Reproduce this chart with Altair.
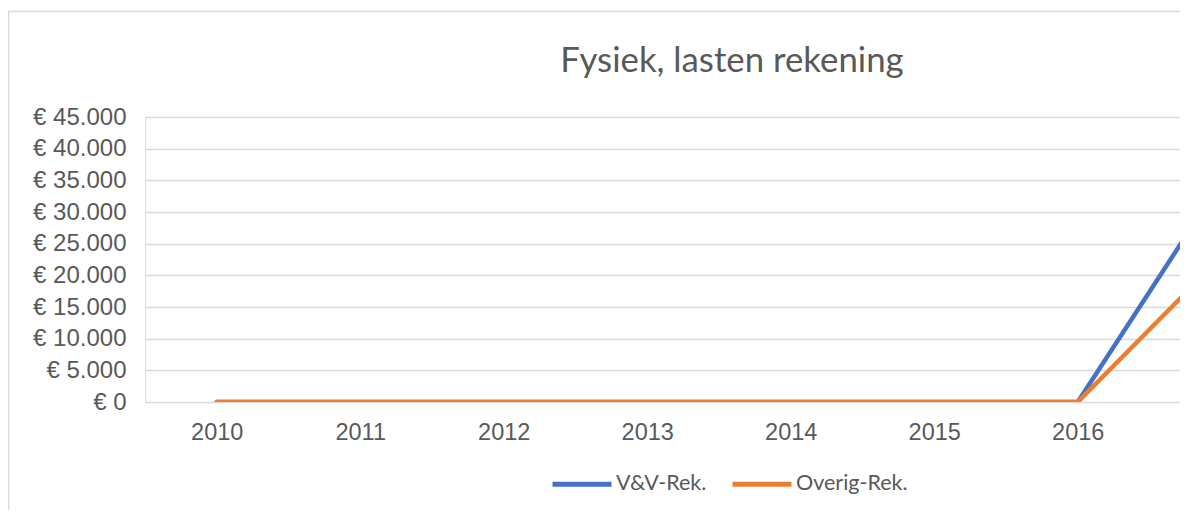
import altair as alt
import pandas as pd

# ---- data ----
years = [2010, 2011, 2012, 2013, 2014, 2015, 2016, 2017]
vv_rek = [0, 0, 0, 0, 0, 0, 0, 34800]
overig_rek = [0, 0, 0, 0, 0, 0, 0, 22900]
series = ["V&V-Rek.", "Overig-Rek."]
colors = ["#4472C4", "#ED7D31"]
y_ticks = [0, 5000, 10000, 15000, 20000, 25000, 30000, 35000, 40000, 45000]
title_text = "Fysiek, lasten rekening"

rows = []
for i, yr in enumerate(years):
    rows.append({"jaar": yr, "serie": series[0], "waarde": vv_rek[i]})
    rows.append({"jaar": yr, "serie": series[1], "waarde": overig_rek[i]})
df = pd.DataFrame(rows)

PLOT_W = 1035
PLOT_H = 285
visible_ticks = [y for y in years if y <= 2016]

x_enc = alt.X(
    "jaar:Q",
    title=None,
    scale=alt.Scale(domain=[2009.5, 2009.5 + PLOT_W / 143.5], nice=False, zero=False),
    axis=alt.Axis(
        values=visible_ticks, format="d", grid=False, domain=False, ticks=False,
        tickSize=0, labelFont="Liberation Sans", labelFontSize=23.5,
        labelColor="#595959", labelPadding=18, labelFlush=False,
    ),
)
y_enc = alt.Y(
    "waarde:Q",
    title=None,
    scale=alt.Scale(domain=[0, 45000], nice=False),
    axis=alt.Axis(
        values=y_ticks, grid=True, gridColor="#d9d9d9", gridWidth=1.5,
        domain=False, ticks=False, tickSize=0,
        labelExpr="'€ ' + replace(format(datum.value, ','), ',', '.')",
        labelFont="Liberation Sans", labelFontSize=24, labelColor="#595959",
        labelPadding=19,
    ),
)
color_enc = alt.Color(
    "serie:N",
    scale=alt.Scale(domain=series, range=colors),
    legend=alt.Legend(
        title=None, orient="none", direction="horizontal",
        legendX=405, legendY=335,
        symbolType="stroke", symbolSize=3481, symbolStrokeWidth=5,
        labelFont="Lato", labelFontSize=21.5, labelColor="#595959",
        labelOffset=2, columnPadding=15,
    ),
)

base = alt.Chart(df)
line_vv = base.transform_filter(alt.datum.serie == series[0]).mark_line(
    clip=True, strokeWidth=4.5, strokeCap="round", strokeJoin="round"
).encode(x=x_enc, y=y_enc, color=color_enc)
line_ov = base.transform_filter(alt.datum.serie == series[1]).mark_line(
    clip=True, strokeWidth=4.5, strokeCap="round", strokeJoin="round"
).encode(x=x_enc, y=y_enc, color=color_enc)

frame_df = pd.DataFrame({"k": [0]})
border = alt.Chart(frame_df).mark_rect(
    fill=None, fillOpacity=0, stroke="#d9d9d9", strokeWidth=1.5, clip=False
).encode(
    x=alt.value(-136.5), x2=alt.value(PLOT_W + 60),
    y=alt.value(-105.5), y2=alt.value(PLOT_H + 160),
)
title_mark = alt.Chart(frame_df).mark_text(
    text=title_text, font="Lato", fontSize=34.8, color="#595959",
    align="center", baseline="alphabetic", clip=False,
).encode(x=alt.value(587), y=alt.value(-45))

chart = alt.layer(border, title_mark, line_vv, line_ov).properties(
    width=PLOT_W,
    height=PLOT_H,
    autosize=alt.AutoSizeParams(type="none"),
    padding={"left": 137, "top": 109, "right": 0, "bottom": 108},
).configure_view(stroke=None).configure(background="white")

chart.save("out.html", embed_options={"renderer": "svg", "actions": False})
